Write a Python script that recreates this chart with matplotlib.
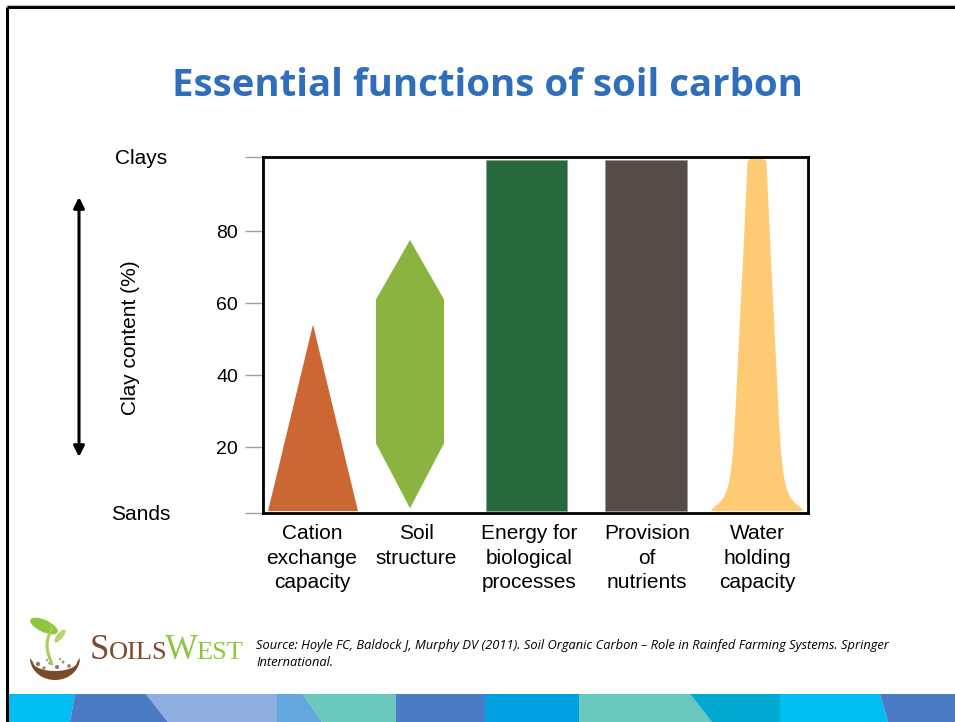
import matplotlib
matplotlib.use("Agg")
import matplotlib.pyplot as plt
import matplotlib.transforms as mtransforms
import numpy as np
from matplotlib.patches import Polygon, Ellipse, Circle

# ---------------- data ----------------
categories = ["Cation\nexchange\ncapacity", "Soil\nstructure",
              "Energy for\nbiological\nprocesses", "Provision\nof\nnutrients",
              "Water\nholding\ncapacity"]
# Clay content (%) ranges
cec_base, cec_apex = 2.2, 54.0                      # triangle
soil_low, soil_low_sh, soil_high_sh, soil_top = 3.0, 21.0, 61.0, 77.5   # hexagon
energy_range = (2.2, 99.7)
nutrient_range = (2.2, 99.7)
water_clay = [2.2, 3.1, 4.4, 6.1, 8.9, 11.0, 13.6, 18.3, 27.5, 50.0, 75.0, 99.0, 99.7, 100.0]
water_halfw = [0.46, 0.44, 0.38, 0.33, 0.29, 0.275, 0.26, 0.24, 0.22, 0.18, 0.135, 0.095, 0.085, 0.06]
ytick_vals = [20, 40, 60, 80]

# layout (positions / widths in axis units)
centers = [0.50, 1.47, 2.63, 3.83, 4.94]
widths = [0.90, 0.68, 0.81, 0.82]
label_shift_px = [-1, 6, 3, 1, 0]
colors = ["#CC6633", "#8AB43F", "#276A3B", "#564B46", "#FECB74"]

W, H = 955, 722
fig = plt.figure(figsize=(W / 100, H / 100), dpi=100)
fig.patch.set_facecolor("white")

# background overlay in pixel coordinates
bg = fig.add_axes([0, 0, 1, 1], zorder=0)
bg.set_xlim(0, W)
bg.set_ylim(H, 0)
bg.axis("off")
renderer = fig.canvas.get_renderer()

# slide frame
bg.plot([7, 7], [7, H], color="black", lw=2.2, solid_capstyle="butt")
bg.plot([7, W], [7, 7], color="black", lw=2.2, solid_capstyle="butt")
bg.plot([7, W], [4.5, 4.5], color="#BBBBBB", lw=0.8)

# bottom decorative band
band_bounds = [(9, 9), (75, 70), (146, 168), (277, 277), (303, 322), (396, 396),
               (485, 485), (579, 579), (690, 712), (780, 780), (880, 888), (W, W)]
band_cols = ["#00BEF2", "#4A7BC4", "#8EAEE0", "#62A8DE", "#69C7BD", "#4A7BC4",
             "#00A1E0", "#69C7BD", "#00A9CF", "#00BEF2", "#4A7BC4"]
yt, yb = 694, H
for (a, b), (c, d), col in zip(band_bounds[:-1], band_bounds[1:], band_cols):
    bg.add_patch(Polygon([(a, yt), (c, yt), (d, yb), (b, yb)], closed=True,
                         facecolor=col, edgecolor="none"))

# title
title = "Essential functions of soil carbon"
t = bg.text(487, 96, title, ha="center", va="baseline", fontsize=34,
            fontweight="bold", family="Open Sans", color="#2F6EBB")
w = t.get_window_extent(renderer).width
t.set_fontsize(34 * 630 / w)

# left side labels
bg.text(141, 158, "Clays", ha="center", va="center", fontsize=15,
        family="Liberation Sans")
bg.text(141, 514, "Sands", ha="center", va="center", fontsize=15,
        family="Liberation Sans")
bg.text(130, 338, "Clay content (%)", ha="center", va="center", rotation=90,
        fontsize=15, family="Liberation Sans")
bg.annotate("", xy=(79, 197), xytext=(79, 457),
            arrowprops=dict(arrowstyle="<|-|>", lw=2.2, color="black",
                            mutation_scale=16, shrinkA=0, shrinkB=0))

# source
src1 = ("Source: Hoyle FC, Baldock J, Murphy DV (2011). Soil Organic Carbon \u2013 "
        "Role in Rainfed Farming Systems. Springer")
s1 = bg.text(256, 649, src1, ha="left", va="baseline", fontsize=9,
             style="italic", family="Open Sans", color="black")
ws = s1.get_window_extent(renderer).width
fs = 9 * 632 / ws
s1.set_fontsize(fs)
bg.text(256, 666, "International.", ha="left", va="baseline", fontsize=fs,
        style="italic", family="Open Sans", color="black")

# logo: sprout + soil bowl
theta = np.linspace(np.pi, 2 * np.pi, 40)
outer = np.c_[55 + 25 * np.cos(theta), 658 - 22 * np.sin(theta)]
theta2 = np.linspace(2 * np.pi, np.pi, 40)
inner = np.c_[55 + 22 * np.cos(theta2), 662 - 9 * np.sin(theta2)]
bg.add_patch(Polygon(np.vstack([outer, inner]), closed=True,
                     facecolor="#7A4A2B", edgecolor="none"))
for (cx, cy, r, col) in [(38, 664, 2.2, "#8A7A70"), (44, 668, 1.8, "#A09080"),
                         (50, 663, 1.6, "#A09080"), (57, 667, 2.0, "#8A7A70"),
                         (63, 662, 1.5, "#A09080"), (69, 666, 1.8, "#8A7A70"),
                         (47, 660, 1.2, "#B0A090"), (60, 659, 1.2, "#B0A090")]:
    bg.add_patch(Circle((cx, cy), r, facecolor=col, edgecolor="none"))
ss = np.linspace(0, 1, 30)
stem_x = 52 - 6 * np.sin(ss * np.pi * 0.9) + 2 * ss
stem_y = 664 - 36 * ss
bg.plot(stem_x, stem_y, color="#A8CF5A", lw=2.2, solid_capstyle="round")
bg.add_patch(Ellipse((44, 626), 30, 12, angle=25, facecolor="#8DC63F",
                     edgecolor="none"))
bg.add_patch(Ellipse((60, 636), 16, 6, angle=-50, facecolor="#B5D56A",
                     edgecolor="none"))

# SOILSWEST wordmark
x = 90
for txt, size, col in [("S", 25, "#7A4A2B"), ("OILS", 19, "#7A4A2B"),
                       ("W", 25, "#8DC63F"), ("EST", 19, "#8DC63F")]:
    tt = bg.text(x, 659, txt, ha="left", va="baseline", fontsize=size,
                 family="Liberation Serif", color=col)
    x += tt.get_window_extent(renderer).width * 0.96

# ---------------- chart ----------------
ax = fig.add_axes([263 / W, (H - 513) / H, 545 / W, 356 / H], zorder=1)
ylo, yhi = 1.67, 100.56
ax.set_xlim(0, 5.45)
ax.set_ylim(ylo, yhi)

# cation exchange capacity: triangle
c, w0 = centers[0], widths[0]
ax.fill([c - w0 / 2, c, c + w0 / 2], [cec_base, cec_apex, cec_base],
        color=colors[0], lw=0)
# soil structure: hexagon
c, w1 = centers[1], widths[1]
ax.fill([c, c + w1 / 2, c + w1 / 2, c, c - w1 / 2, c - w1 / 2],
        [soil_low, soil_low_sh, soil_high_sh, soil_top, soil_high_sh, soil_low_sh],
        color=colors[1], lw=0)
# energy & nutrients: bars
for i, rng in zip([2, 3], [energy_range, nutrient_range]):
    ax.bar(centers[i], rng[1] - rng[0], bottom=rng[0], width=widths[i],
           color=colors[i], edgecolor="#9A9A9A", linewidth=0.6)
# water holding capacity: tapered profile
c = centers[4]
wc = np.array(water_clay)
hw = np.array(water_halfw)
ax.fill(np.r_[c - hw, (c + hw)[::-1]], np.r_[wc, wc[::-1]],
        color=colors[4], lw=0)

ax.set_yticks([ylo] + ytick_vals + [yhi])
ax.set_yticklabels([""] + [str(v) for v in ytick_vals] + [""],
                   family="Liberation Sans", fontsize=14)
ax.tick_params(axis="y", length=13, width=1, color="#A0A0A0", pad=5)
ax.set_xticks(centers)
ax.set_xticklabels(categories, family="Liberation Sans", fontsize=15,
                   linespacing=1.37)
ax.tick_params(axis="x", length=0, pad=8)
for lbl, dx in zip(ax.get_xticklabels(), label_shift_px):
    lbl.set_transform(lbl.get_transform() +
                      mtransforms.ScaledTranslation(dx / 100, 0, fig.dpi_scale_trans))
for sp in ax.spines.values():
    sp.set_linewidth(2)
    sp.set_color("black")

fig.savefig("out.png", dpi=100)
